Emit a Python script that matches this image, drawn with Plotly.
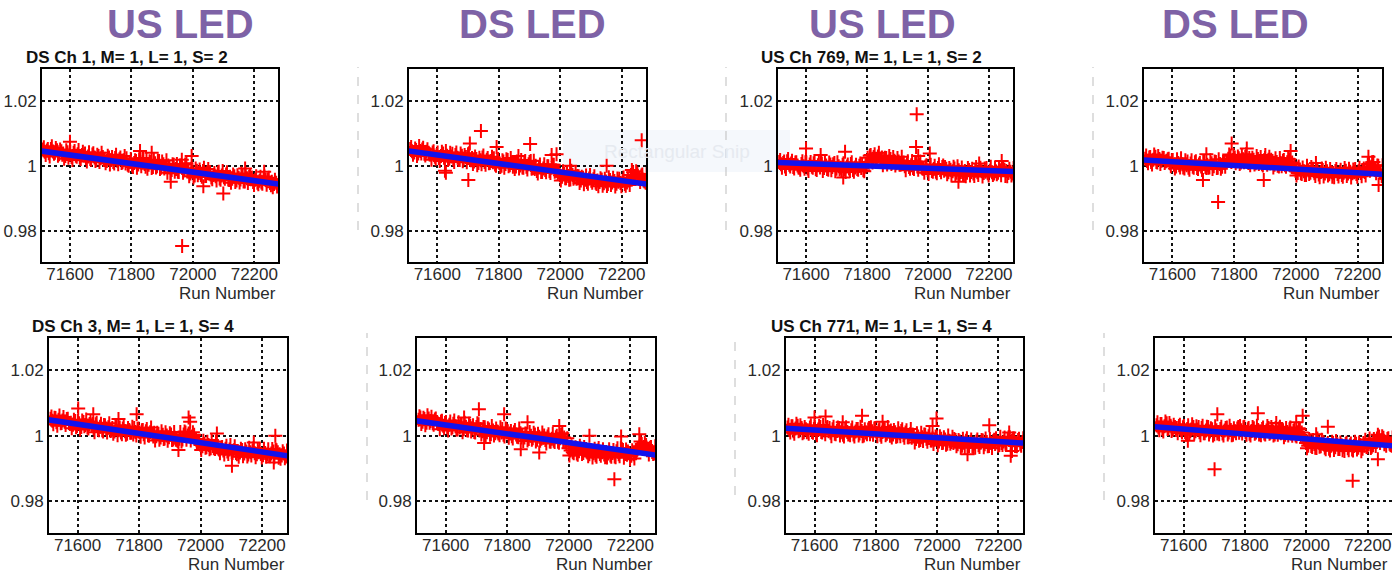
import plotly.graph_objects as go

# ---------------- data ----------------
runs = [
    71512, 71518, 71525, 71531, 71538, 71545, 71551, 71558, 71565, 71572,
    71578, 71585, 71592, 71598, 71605, 71612, 71619, 71625, 71632, 71639,
    71646, 71652, 71659, 71666, 71673, 71680, 71686, 71693, 71700, 71707,
    71713, 71720, 71727, 71734, 71741, 71747, 71754, 71761, 71768, 71775,
    71781, 71788, 71795, 71802, 71809, 71815, 71822, 71829, 71836, 71843,
    71849, 71856, 71863, 71870, 71877, 71883, 71890, 71897, 71904, 71911,
    71917, 71924, 71931, 71938, 71945, 71951, 71958, 71965, 71972, 71979,
    71985, 71992, 71999, 72006, 72013, 72019, 72026, 72033, 72040, 72047,
    72053, 72060, 72067, 72074, 72081, 72087, 72094, 72101, 72108, 72115,
    72121, 72128, 72135, 72142, 72149, 72155, 72162, 72169, 72176, 72183,
    72189, 72196, 72203, 72210, 72217, 72223, 72230, 72237, 72244, 72251,
    72257, 72264, 72271, 72278,
]
runs_b = [
    71515, 71521, 71528, 71534, 71541, 71548, 71554, 71561, 71568, 71575,
    71581, 71588, 71595, 71601, 71608, 71615, 71622, 71628, 71635, 71642,
    71649, 71655, 71662, 71669, 71676, 71683, 71689, 71696, 71703, 71710,
    71716, 71723, 71730, 71737, 71744, 71750, 71757, 71764, 71771, 71778,
    71784, 71791, 71798, 71805, 71812, 71818, 71825, 71832, 71839, 71846,
    71852, 71859, 71866, 71873, 71880, 71886, 71893, 71900, 71907, 71914,
    71920, 71927, 71934, 71941, 71948, 71954, 71961, 71968, 71975, 71982,
    71988, 71995, 72002, 72009, 72016, 72022, 72029, 72036, 72043, 72050,
    72056, 72063, 72070, 72077, 72084, 72090, 72097, 72104, 72111, 72118,
    72124, 72131, 72138, 72145, 72152, 72158, 72165, 72172, 72179, 72186,
    72192, 72199, 72206, 72213, 72220, 72226, 72233, 72240, 72247, 72254,
    72260, 72267, 72274, 72281,
]

p1_vals = [
    1.0050, 1.0043, 1.0047, 1.0039, 1.0052, 1.0044, 1.0040, 1.0048, 1.0036, 1.0045,
    1.0038, 1.0030, 1.0042, 1.0034, 1.0027, 1.0040, 1.0031, 1.0036, 1.0025, 1.0033,
    1.0032, 1.0024, 1.0029, 1.0021, 1.0035, 1.0026, 1.0019, 1.0030, 1.0023, 1.0027,
    1.0022, 1.0015, 1.0026, 1.0018, 1.0012, 1.0024, 1.0016, 1.0020, 1.0009, 1.0017,
    1.0007, 1.0003, 1.0012, 1.0001, 1.0009, 1.0015, 1.0004, 1.0011, 1.0021, 1.0006,
    1.0018, 1.0003, 1.0012, 0.9996, 1.0008, 0.9999, 1.0015, 0.9994, 1.0005, 0.9998,
    0.9979, 0.9995, 0.9987, 1.0003, 0.9990, 0.9982, 1.0001, 0.9993, 0.9986, 1.0008,
    0.9988, 0.9976, 0.9983, 0.9970, 0.9985, 0.9978, 0.9972, 0.9984, 0.9969, 0.9980,
    0.9976, 0.9964, 0.9972, 0.9968, 0.9978, 0.9961, 0.9970, 0.9965, 0.9973, 0.9958,
    0.9966, 0.9960, 0.9968, 0.9955, 0.9963, 0.9958, 0.9971, 0.9952, 0.9962, 0.9966,
    0.9959, 0.9950, 0.9957, 0.9948, 0.9954, 0.9949, 0.9961, 0.9956, 0.9958, 0.9947,
    0.9951, 0.9944, 0.9948, 0.9940,
]
p1_vals_b = [
    1.0057, 1.0033, 1.0052, 1.0029, 1.0060, 1.0037, 1.0055, 1.0031, 1.0050, 1.0034,
    1.0022, 1.0048, 1.0025, 1.0044, 1.0018, 1.0046, 1.0028, 1.0049, 1.0021, 1.0043,
    1.0038, 1.0013, 1.0042, 1.0019, 1.0039, 1.0015, 1.0034, 1.0012, 1.0040, 1.0018,
    1.0008, 1.0031, 1.0004, 1.0027, 1.0007, 1.0034, 1.0005, 1.0026, 1.0011, 1.0030,
    1.0023, 1.0000, 1.0021, 0.9996, 1.0017, 0.9994, 1.0020, 0.9999, 1.0024, 0.9997,
    0.9991, 1.0014, 0.9993, 1.0019, 0.9995, 1.0016, 0.9990, 1.0013, 0.9992, 1.0017,
    1.0001, 0.9977, 1.0005, 0.9982, 1.0006, 0.9981, 1.0000, 0.9979, 1.0004, 0.9983,
    0.9968, 0.9991, 0.9964, 0.9992, 0.9971, 0.9989, 0.9966, 0.9994, 0.9969, 0.9990,
    0.9981, 0.9959, 0.9978, 0.9955, 0.9982, 0.9957, 0.9984, 0.9960, 0.9980, 0.9956,
    0.9948, 0.9973, 0.9950, 0.9971, 0.9949, 0.9976, 0.9952, 0.9974, 0.9947, 0.9972,
    0.9964, 0.9941, 0.9968, 0.9943, 0.9966, 0.9945, 0.9967, 0.9942, 0.9963, 0.9940,
    0.9934, 0.9957, 0.9936, 0.9959,
]
p1_out_runs = [71600, 71965, 71828, 71866, 71928, 71996, 71964, 72099, 72170, 72034, 72232]
p1_out_vals = [1.0074, 0.9753, 1.0046, 1.0040, 0.9951, 1.0030, 1.0019, 0.9915, 0.9992, 0.9937, 0.9982]

p2_vals = [
    1.0052, 1.0045, 1.0041, 1.0049, 1.0038, 1.0046, 1.0050, 1.0037, 1.0043, 1.0040,
    1.0035, 1.0041, 1.0028, 1.0033, 1.0024, 1.0030, 1.0038, 1.0027, 1.0031, 1.0022,
    1.0029, 1.0020, 1.0033, 1.0025, 1.0018, 1.0031, 1.0022, 1.0027, 1.0036, 1.0019,
    1.0024, 1.0013, 1.0021, 1.0009, 1.0017, 1.0026, 1.0012, 1.0019, 1.0008, 1.0015,
    1.0011, 1.0004, 1.0016, 1.0009, 1.0000, 1.0013, 1.0006, 1.0018, 1.0002, 1.0010,
    1.0004, 0.9998, 1.0009, 1.0001, 0.9995, 1.0012, 0.9997, 1.0005, 1.0015, 0.9993,
    0.9990, 0.9984, 0.9996, 0.9981, 0.9992, 0.9987, 0.9999, 0.9983, 0.9994, 1.0003,
    0.9986, 0.9978, 0.9971, 0.9966, 0.9975, 0.9962, 0.9969, 0.9958, 0.9972, 0.9964,
    0.9960, 0.9968, 0.9955, 0.9963, 0.9957, 0.9950, 0.9961, 0.9954, 0.9959, 0.9948,
    0.9955, 0.9950, 0.9958, 0.9946, 0.9952, 0.9944, 0.9956, 0.9949, 0.9953, 0.9945,
    0.9951, 0.9947, 0.9953, 0.9944, 0.9949, 0.9955, 0.9972, 0.9980, 0.9968, 0.9976,
    0.9962, 0.9970, 0.9955, 0.9948,
]
p2_vals_b = [
    1.0058, 1.0034, 1.0053, 1.0030, 1.0061, 1.0038, 1.0056, 1.0032, 1.0051, 1.0035,
    1.0019, 1.0045, 1.0022, 1.0041, 1.0015, 1.0043, 1.0025, 1.0046, 1.0018, 1.0040,
    1.0037, 1.0012, 1.0041, 1.0018, 1.0038, 1.0014, 1.0033, 1.0011, 1.0039, 1.0017,
    1.0006, 1.0029, 1.0002, 1.0025, 1.0005, 1.0032, 1.0003, 1.0024, 1.0009, 1.0028,
    1.0023, 1.0000, 1.0021, 0.9996, 1.0017, 0.9994, 1.0020, 0.9999, 1.0024, 0.9997,
    0.9990, 1.0013, 0.9992, 1.0018, 0.9994, 1.0015, 0.9989, 1.0012, 0.9991, 1.0016,
    1.0000, 0.9976, 1.0004, 0.9981, 1.0005, 0.9980, 0.9999, 0.9978, 1.0003, 0.9982,
    0.9985, 0.9982, 0.9955, 0.9983, 0.9962, 0.9980, 0.9957, 0.9985, 0.9960, 0.9981,
    0.9969, 0.9947, 0.9966, 0.9943, 0.9970, 0.9945, 0.9972, 0.9948, 0.9968, 0.9944,
    0.9937, 0.9962, 0.9939, 0.9960, 0.9938, 0.9965, 0.9941, 0.9963, 0.9936, 0.9961,
    0.9960, 0.9937, 0.9964, 0.9939, 0.9962, 0.9941, 0.9987, 0.9962, 0.9983, 0.9960,
    0.9950, 0.9973, 0.9952, 0.9975,
]
p2_out_runs = [71742, 71706, 71701, 71625, 71628, 71793, 71902, 71972, 71988, 72265, 72151, 72032, 71864]
p2_out_vals = [1.0107, 1.0069, 0.9956, 0.9985, 0.9979, 1.0058, 1.0067, 1.0033, 1.0036, 1.0079, 1.0000, 1.0000, 1.0030]

p3_vals = [
    1.0012, 1.0005, 1.0009, 0.9998, 1.0014, 1.0003, 1.0007, 0.9996, 1.0010, 1.0001,
    0.9994, 1.0006, 0.9999, 1.0011, 0.9992, 1.0004, 0.9997, 1.0008, 0.9990, 1.0002,
    0.9995, 1.0007, 0.9993, 1.0001, 0.9988, 1.0004, 0.9996, 1.0009, 0.9991, 0.9999,
    0.9994, 1.0003, 0.9989, 0.9998, 0.9992, 1.0006, 0.9987, 0.9995, 0.9990, 1.0000,
    0.9993, 0.9986, 0.9997, 1.0025, 1.0031, 1.0020, 1.0027, 1.0018, 1.0029, 1.0022,
    1.0026, 1.0017, 1.0024, 1.0013, 1.0021, 1.0010, 1.0016, 1.0008, 1.0013, 1.0004,
    1.0007, 0.9999, 1.0005, 0.9996, 1.0002, 0.9993, 1.0009, 0.9998, 1.0004, 0.9995,
    0.9991, 0.9998, 0.9986, 0.9994, 0.9984, 0.9990, 0.9982, 0.9993, 0.9987, 0.9996,
    0.9985, 0.9991, 0.9980, 0.9988, 0.9983, 0.9992, 0.9979, 0.9986, 0.9981, 0.9975,
    0.9984, 0.9979, 0.9987, 0.9981, 0.9976, 0.9985, 0.9980, 0.9988, 0.9983, 0.9978,
    0.9982, 0.9977, 0.9985, 0.9980, 0.9976, 0.9983, 0.9979, 0.9986, 0.9992, 0.9988,
    0.9984, 0.9978, 0.9982, 0.9976,
]
p3_vals_b = [
    1.0018, 0.9994, 1.0013, 0.9990, 1.0021, 0.9998, 1.0016, 0.9992, 1.0011, 0.9995,
    0.9988, 1.0014, 0.9991, 1.0010, 0.9984, 1.0012, 0.9994, 1.0015, 0.9987, 1.0009,
    1.0009, 0.9984, 1.0013, 0.9990, 1.0010, 0.9986, 1.0005, 0.9983, 1.0011, 0.9989,
    0.9985, 1.0008, 0.9981, 1.0004, 0.9984, 1.0011, 0.9982, 1.0003, 0.9988, 1.0007,
    1.0006, 0.9983, 1.0004, 1.0012, 1.0033, 1.0010, 1.0036, 1.0015, 1.0040, 1.0013,
    1.0002, 1.0025, 1.0004, 1.0030, 1.0006, 1.0027, 1.0001, 1.0024, 1.0003, 1.0028,
    1.0010, 0.9986, 1.0014, 0.9991, 1.0015, 0.9990, 1.0009, 0.9988, 1.0013, 0.9992,
    0.9979, 1.0002, 0.9975, 1.0003, 0.9982, 1.0000, 0.9977, 1.0005, 0.9980, 1.0001,
    0.9996, 0.9974, 0.9993, 0.9970, 0.9997, 0.9972, 0.9999, 0.9975, 0.9995, 0.9971,
    0.9968, 0.9993, 0.9970, 0.9991, 0.9969, 0.9996, 0.9972, 0.9994, 0.9967, 0.9992,
    0.9993, 0.9970, 0.9997, 0.9972, 0.9995, 0.9974, 0.9996, 0.9971, 0.9992, 0.9969,
    0.9968, 0.9991, 0.9970, 0.9993,
]
p3_out_runs = [71963, 71961, 71600, 71728, 71722, 71648, 72100, 72168, 72242, 72006, 71968]
p3_out_vals = [1.0159, 1.0058, 1.0053, 1.0043, 0.9964, 1.0033, 0.9951, 1.0007, 1.0015, 1.0038, 1.0030]

p4_vals = [
    1.0022, 1.0015, 1.0026, 1.0012, 1.0019, 1.0028, 1.0010, 1.0021, 1.0016, 1.0024,
    1.0013, 1.0020, 1.0008, 1.0017, 1.0003, 0.9998, 1.0009, 0.9995, 1.0005, 0.9992,
    1.0002, 0.9994, 1.0007, 0.9997, 1.0011, 0.9993, 1.0004, 0.9998, 1.0013, 0.9996,
    1.0003, 0.9995, 1.0008, 0.9999, 1.0012, 0.9994, 1.0006, 0.9997, 1.0009, 1.0015,
    1.0022, 1.0031, 1.0018, 1.0026, 1.0014, 1.0023, 1.0010, 1.0020, 1.0027, 1.0016,
    1.0024, 1.0012, 1.0019, 1.0008, 1.0021, 1.0014, 1.0005, 1.0017, 1.0010, 1.0019,
    1.0008, 1.0015, 1.0003, 1.0012, 0.9998, 1.0009, 1.0016, 1.0002, 1.0011, 1.0020,
    1.0006, 0.9995, 0.9984, 0.9978, 0.9989, 0.9975, 0.9983, 0.9972, 0.9986, 0.9979,
    0.9990, 0.9977, 0.9984, 0.9973, 0.9981, 0.9987, 0.9976, 0.9983, 0.9974, 0.9980,
    0.9978, 0.9984, 0.9975, 0.9981, 0.9972, 0.9979, 0.9985, 0.9976, 0.9982, 0.9977,
    0.9980, 0.9975, 0.9983, 0.9978, 0.9985, 0.9981, 0.9992, 1.0006, 0.9997, 1.0012,
    0.9989, 1.0001, 0.9979, 0.9968,
]
p4_vals_b = [
    1.0032, 1.0008, 1.0027, 1.0004, 1.0035, 1.0012, 1.0030, 1.0006, 1.0025, 1.0009,
    1.0016, 1.0022, 0.9999, 1.0018, 0.9992, 1.0020, 1.0002, 1.0023, 0.9995, 1.0017,
    1.0013, 0.9988, 1.0017, 0.9994, 1.0014, 0.9990, 1.0009, 0.9987, 1.0015, 0.9993,
    0.9994, 1.0017, 0.9990, 1.0013, 0.9993, 1.0020, 0.9991, 1.0012, 0.9997, 1.0016,
    1.0035, 1.0012, 1.0033, 1.0008, 1.0029, 1.0006, 1.0032, 1.0011, 1.0036, 1.0009,
    1.0002, 1.0025, 1.0004, 1.0030, 1.0006, 1.0027, 1.0001, 1.0024, 1.0003, 1.0028,
    1.0019, 0.9995, 1.0023, 1.0000, 1.0024, 0.9999, 1.0018, 0.9997, 1.0022, 1.0001,
    1.0010, 0.9997, 0.9970, 0.9998, 0.9977, 0.9995, 0.9972, 1.0000, 0.9975, 0.9996,
    0.9991, 0.9969, 0.9988, 0.9965, 0.9992, 0.9967, 0.9994, 0.9970, 0.9990, 0.9966,
    0.9965, 0.9990, 0.9967, 0.9988, 0.9966, 0.9993, 0.9969, 0.9991, 0.9964, 0.9989,
    0.9990, 0.9966, 0.9994, 0.9968, 0.9992, 0.9970, 1.0005, 0.9985, 1.0011, 0.9988,
    0.9977, 1.0000, 0.9979, 1.0002,
]
p4_out_runs = [71748, 71792, 71699, 71841, 72268, 71983, 71896, 72065, 71710, 72235, 71901]
p4_out_vals = [0.9889, 1.0069, 0.9956, 1.0053, 0.9941, 1.0046, 0.9956, 1.0009, 1.0036, 1.0028, 1.0033]

p5_vals = [
    1.0052, 1.0046, 1.0055, 1.0041, 1.0049, 1.0038, 1.0047, 1.0043, 1.0051, 1.0039,
    1.0040, 1.0034, 1.0045, 1.0030, 1.0038, 1.0027, 1.0042, 1.0033, 1.0025, 1.0036,
    1.0031, 1.0024, 1.0035, 1.0020, 1.0028, 1.0017, 1.0033, 1.0022, 1.0026, 1.0015,
    1.0024, 1.0013, 1.0028, 1.0017, 1.0010, 1.0022, 1.0014, 1.0006, 1.0018, 1.0009,
    1.0004, 1.0012, 1.0021, 1.0010, 1.0017, 1.0005, 1.0014, 1.0002, 1.0011, 1.0007,
    1.0009, 0.9999, 1.0006, 0.9995, 1.0003, 0.9992, 1.0001, 0.9996, 1.0004, 0.9989,
    0.9994, 0.9986, 0.9991, 0.9983, 1.0004, 1.0010, 1.0001, 1.0006, 0.9998, 1.0003,
    0.9990, 0.9980, 0.9973, 0.9968, 0.9976, 0.9965, 0.9972, 0.9962, 0.9969, 0.9960,
    0.9966, 0.9958, 0.9963, 0.9955, 0.9961, 0.9952, 0.9958, 0.9950, 0.9956, 0.9948,
    0.9954, 0.9949, 0.9957, 0.9946, 0.9952, 0.9943, 0.9950, 0.9955, 0.9947, 0.9944,
    0.9950, 0.9945, 0.9941, 0.9948, 0.9943, 0.9939, 0.9946, 0.9952, 0.9958, 0.9950,
    0.9944, 0.9940, 0.9946, 0.9937,
]
p5_vals_b = [
    1.0059, 1.0035, 1.0054, 1.0031, 1.0062, 1.0039, 1.0057, 1.0033, 1.0052, 1.0036,
    1.0023, 1.0049, 1.0026, 1.0045, 1.0019, 1.0047, 1.0029, 1.0050, 1.0022, 1.0044,
    1.0036, 1.0011, 1.0040, 1.0017, 1.0037, 1.0013, 1.0032, 1.0010, 1.0038, 1.0016,
    1.0006, 1.0029, 1.0002, 1.0025, 1.0005, 1.0032, 1.0003, 1.0024, 1.0009, 1.0028,
    1.0024, 1.0001, 1.0022, 0.9997, 1.0018, 0.9995, 1.0021, 1.0000, 1.0025, 0.9998,
    0.9986, 1.0009, 0.9988, 1.0014, 0.9990, 1.0011, 0.9985, 1.0008, 0.9987, 1.0012,
    0.9988, 0.9984, 1.0012, 0.9989, 1.0013, 0.9988, 1.0007, 0.9986, 1.0011, 0.9990,
    0.9981, 0.9984, 0.9957, 0.9985, 0.9964, 0.9982, 0.9959, 0.9987, 0.9962, 0.9983,
    0.9969, 0.9947, 0.9966, 0.9943, 0.9970, 0.9945, 0.9972, 0.9948, 0.9968, 0.9944,
    0.9936, 0.9961, 0.9938, 0.9959, 0.9937, 0.9964, 0.9940, 0.9962, 0.9935, 0.9960,
    0.9957, 0.9934, 0.9961, 0.9936, 0.9959, 0.9938, 0.9960, 0.9935, 0.9956, 0.9933,
    0.9930, 0.9953, 0.9932, 0.9955,
]
p5_out_runs = [71602, 71651, 71792, 71961, 71966, 72102, 72243, 72238, 71928, 72053, 71733, 72173]
p5_out_vals = [1.0083, 1.0066, 1.0066, 1.0056, 1.0043, 0.9909, 1.0000, 0.9919, 0.9957, 1.0007, 1.0051, 0.9980]

p6_vals = [
    1.0049, 1.0056, 1.0043, 1.0051, 1.0040, 1.0053, 1.0045, 1.0038, 1.0050, 1.0042,
    1.0036, 1.0044, 1.0031, 1.0039, 1.0026, 1.0034, 1.0022, 1.0037, 1.0029, 1.0019,
    1.0025, 1.0033, 1.0020, 1.0028, 1.0016, 1.0030, 1.0023, 1.0012, 1.0027, 1.0035,
    1.0021, 1.0014, 1.0026, 1.0011, 1.0019, 1.0005, 1.0016, 1.0008, 1.0013, 1.0002,
    1.0010, 1.0003, 1.0022, 1.0014, 1.0007, 0.9999, 1.0011, 1.0004, 0.9996, 1.0008,
    1.0002, 0.9995, 1.0006, 0.9990, 1.0000, 0.9993, 1.0004, 0.9988, 0.9997, 0.9991,
    0.9994, 0.9987, 0.9998, 0.9983, 0.9991, 0.9985, 0.9996, 0.9982, 0.9993, 1.0008,
    0.9995, 0.9978, 0.9962, 0.9955, 0.9950, 0.9958, 0.9946, 0.9953, 0.9961, 0.9948,
    0.9956, 0.9949, 0.9944, 0.9952, 0.9947, 0.9941, 0.9955, 0.9945, 0.9950, 0.9943,
    0.9951, 0.9946, 0.9940, 0.9948, 0.9937, 0.9953, 0.9944, 0.9962, 0.9957, 0.9945,
    0.9942, 0.9948, 0.9939, 0.9944, 0.9951, 0.9960, 0.9968, 0.9975, 0.9966, 0.9972,
    0.9958, 0.9964, 0.9951, 0.9946,
]
p6_vals_b = [
    1.0060, 1.0036, 1.0055, 1.0032, 1.0063, 1.0040, 1.0058, 1.0034, 1.0053, 1.0037,
    1.0020, 1.0046, 1.0023, 1.0042, 1.0016, 1.0044, 1.0026, 1.0047, 1.0019, 1.0041,
    1.0036, 1.0011, 1.0040, 1.0017, 1.0037, 1.0013, 1.0032, 1.0010, 1.0038, 1.0016,
    1.0004, 1.0027, 1.0000, 1.0023, 1.0003, 1.0030, 1.0001, 1.0022, 1.0007, 1.0026,
    1.0021, 0.9998, 1.0019, 0.9994, 1.0015, 0.9992, 1.0018, 0.9997, 1.0022, 0.9995,
    0.9984, 1.0007, 0.9986, 1.0012, 0.9988, 1.0009, 0.9983, 1.0006, 0.9985, 1.0010,
    1.0001, 0.9977, 1.0005, 0.9982, 1.0006, 0.9981, 1.0000, 0.9979, 1.0004, 0.9983,
    0.9984, 0.9993, 0.9940, 0.9968, 0.9947, 0.9965, 0.9942, 0.9970, 0.9945, 0.9966,
    0.9960, 0.9938, 0.9957, 0.9934, 0.9961, 0.9936, 0.9963, 0.9939, 0.9959, 0.9935,
    0.9934, 0.9959, 0.9936, 0.9957, 0.9935, 0.9962, 0.9938, 0.9960, 0.9933, 0.9958,
    0.9952, 0.9929, 0.9956, 0.9931, 0.9954, 0.9963, 0.9983, 0.9960, 0.9979, 0.9956,
    0.9943, 0.9966, 0.9945, 0.9968,
]
p6_out_runs = [72148, 71708, 71790, 71725, 71904, 71969, 71866, 72067, 72170, 72229, 71844, 71660]
p6_out_vals = [0.9868, 1.0081, 1.0066, 0.9978, 0.9949, 1.0030, 1.0041, 1.0000, 0.9998, 1.0005, 0.9959, 1.0056]

p7_vals = [
    1.0025, 1.0018, 1.0029, 1.0014, 1.0022, 1.0031, 1.0016, 1.0024, 1.0011, 1.0020,
    1.0017, 1.0025, 1.0012, 1.0021, 1.0008, 1.0019, 1.0027, 1.0010, 1.0016, 1.0023,
    1.0014, 1.0009, 1.0020, 1.0006, 1.0015, 1.0024, 1.0011, 1.0003, 1.0018, 1.0012,
    1.0008, 1.0017, 1.0004, 1.0013, 1.0021, 1.0007, 1.0015, 1.0001, 1.0010, 1.0019,
    1.0005, 1.0014, 1.0022, 1.0009, 1.0017, 1.0003, 1.0012, 1.0020, 1.0006, 1.0013,
    1.0016, 1.0004, 1.0011, 0.9999, 1.0008, 1.0015, 1.0002, 1.0010, 0.9996, 1.0005,
    0.9994, 1.0002, 0.9990, 0.9998, 0.9987, 0.9996, 1.0004, 0.9991, 0.9999, 0.9986,
    0.9993, 0.9988, 0.9997, 0.9983, 0.9991, 0.9979, 0.9989, 0.9976, 0.9985, 0.9981,
    0.9978, 0.9987, 0.9974, 0.9983, 0.9970, 0.9979, 0.9985, 0.9972, 0.9981, 0.9968,
    0.9977, 0.9983, 0.9971, 0.9979, 0.9986, 0.9974, 0.9981, 0.9969, 0.9978, 0.9984,
    0.9975, 0.9980, 0.9972, 0.9978, 0.9983, 0.9976, 0.9990, 0.9996, 0.9984, 0.9992,
    0.9979, 0.9987, 0.9974, 0.9981,
]
p7_vals_b = [
    1.0034, 1.0010, 1.0029, 1.0006, 1.0037, 1.0014, 1.0032, 1.0008, 1.0027, 1.0011,
    1.0006, 1.0032, 1.0009, 1.0028, 1.0002, 1.0030, 1.0012, 1.0033, 1.0005, 1.0027,
    1.0024, 0.9999, 1.0028, 1.0005, 1.0025, 1.0001, 1.0020, 0.9998, 1.0026, 1.0004,
    1.0002, 1.0025, 0.9998, 1.0021, 1.0001, 1.0028, 0.9999, 1.0020, 1.0005, 1.0024,
    1.0026, 1.0003, 1.0024, 0.9999, 1.0020, 0.9997, 1.0023, 1.0002, 1.0027, 1.0000,
    0.9995, 1.0018, 0.9997, 1.0023, 0.9999, 1.0020, 0.9994, 1.0017, 0.9996, 1.0021,
    1.0004, 0.9980, 1.0008, 0.9985, 1.0009, 0.9984, 1.0003, 0.9982, 1.0007, 0.9986,
    0.9975, 0.9998, 0.9971, 0.9999, 0.9978, 0.9996, 0.9973, 1.0001, 0.9976, 0.9997,
    0.9990, 0.9968, 0.9987, 0.9964, 0.9991, 0.9966, 0.9993, 0.9969, 0.9989, 0.9965,
    0.9964, 0.9989, 0.9966, 0.9987, 0.9965, 0.9992, 0.9968, 0.9990, 0.9963, 0.9988,
    0.9993, 0.9970, 0.9997, 0.9972, 0.9995, 0.9974, 0.9996, 0.9971, 0.9992, 0.9969,
    0.9968, 0.9991, 0.9970, 0.9993,
]
p7_out_runs = [71600, 71636, 71755, 71998, 71985, 72170, 72099, 72240, 72244, 71822, 71692, 72235]
p7_out_vals = [1.0056, 1.0059, 1.0061, 1.0053, 1.0030, 1.0032, 0.9944, 0.9939, 0.9954, 1.0043, 1.0041, 1.0010]

p8_vals = [
    1.0032, 1.0025, 1.0036, 1.0021, 1.0029, 1.0038, 1.0023, 1.0031, 1.0019, 1.0027,
    1.0024, 1.0030, 1.0017, 1.0026, 1.0012, 1.0021, 1.0008, 1.0019, 1.0027, 1.0014,
    1.0019, 1.0011, 1.0024, 1.0008, 1.0016, 1.0027, 1.0013, 1.0020, 1.0005, 1.0017,
    1.0012, 1.0021, 1.0007, 1.0016, 1.0025, 1.0010, 1.0018, 1.0003, 1.0014, 1.0022,
    1.0009, 1.0017, 1.0026, 1.0011, 1.0020, 1.0006, 1.0015, 1.0023, 1.0010, 1.0018,
    1.0013, 1.0021, 1.0007, 1.0016, 1.0024, 1.0009, 1.0018, 1.0004, 1.0014, 1.0022,
    1.0008, 1.0017, 1.0003, 1.0012, 1.0020, 1.0006, 1.0015, 1.0001, 1.0011, 1.0019,
    1.0010, 0.9993, 0.9978, 0.9970, 0.9982, 0.9966, 0.9975, 0.9963, 0.9979, 0.9968,
    0.9976, 0.9964, 0.9973, 0.9961, 0.9970, 0.9978, 0.9965, 0.9974, 0.9960, 0.9971,
    0.9967, 0.9975, 0.9962, 0.9971, 0.9958, 0.9969, 0.9976, 0.9964, 0.9972, 0.9961,
    0.9970, 0.9966, 0.9974, 0.9963, 0.9971, 0.9984, 0.9992, 0.9998, 0.9987, 0.9994,
    0.9982, 0.9990, 0.9976, 0.9970,
]
p8_vals_b = [
    1.0041, 1.0017, 1.0036, 1.0013, 1.0044, 1.0021, 1.0039, 1.0015, 1.0034, 1.0018,
    1.0008, 1.0034, 1.0011, 1.0030, 1.0004, 1.0032, 1.0014, 1.0035, 1.0007, 1.0029,
    1.0027, 1.0002, 1.0031, 1.0008, 1.0028, 1.0004, 1.0023, 1.0001, 1.0029, 1.0007,
    1.0005, 1.0028, 1.0001, 1.0024, 1.0004, 1.0031, 1.0002, 1.0023, 1.0008, 1.0027,
    1.0030, 1.0007, 1.0028, 1.0003, 1.0024, 1.0001, 1.0027, 1.0006, 1.0031, 1.0004,
    1.0002, 1.0025, 1.0004, 1.0030, 1.0006, 1.0027, 1.0001, 1.0024, 1.0003, 1.0028,
    1.0020, 0.9996, 1.0024, 1.0001, 1.0025, 1.0000, 1.0019, 0.9998, 1.0023, 1.0002,
    0.9995, 0.9989, 0.9962, 0.9990, 0.9969, 0.9987, 0.9964, 0.9992, 0.9967, 0.9988,
    0.9981, 0.9959, 0.9978, 0.9955, 0.9982, 0.9957, 0.9984, 0.9960, 0.9980, 0.9956,
    0.9954, 0.9979, 0.9956, 0.9977, 0.9955, 0.9982, 0.9958, 0.9980, 0.9953, 0.9978,
    0.9988, 0.9965, 0.9992, 0.9967, 0.9990, 0.9969, 1.0003, 0.9978, 0.9999, 0.9974,
    0.9970, 0.9993, 0.9972, 0.9995,
]
p8_out_runs = [71701, 72151, 71842, 72233, 71988, 71710, 72070, 71967, 71902, 71614, 72032]
p8_out_vals = [0.9898, 0.9863, 1.0069, 0.9929, 1.0061, 1.0066, 1.0028, 1.0041, 1.0039, 0.9985, 1.0005]

fit_runs = [71500, 72290]
fit_start = [1.00465, 1.00465, 1.00102, 1.00182, 1.00495, 1.00465, 1.00233, 1.00283]
fit_end = [0.99425, 0.99425, 0.99818, 0.99738, 0.99380, 0.99405, 0.99773, 0.99688]

headers = ["US LED", "DS LED", "US LED", "DS LED"]
panel_titles = ["DS Ch 1, M= 1, L= 1, S= 2", "", "US Ch 769, M= 1, L= 1, S= 2", "",
                "DS Ch 3, M= 1, L= 1, S= 4", "", "US Ch 771, M= 1, L= 1, S= 4", ""]
x_tick_vals = [71600, 71800, 72000, 72200]
x_tick_text = ["71600", "71800", "72000", "72200"]
y_tick_vals = [0.98, 1.0, 1.02]
y_tick_text = ["0.98", "1", "1.02"]
x_label = "Run Number"

all_vals = [p1_vals, p2_vals, p3_vals, p4_vals, p5_vals, p6_vals, p7_vals, p8_vals]
all_vals_b = [p1_vals_b, p2_vals_b, p3_vals_b, p4_vals_b,
              p5_vals_b, p6_vals_b, p7_vals_b, p8_vals_b]
all_out_runs = [p1_out_runs, p2_out_runs, p3_out_runs, p4_out_runs,
                p5_out_runs, p6_out_runs, p7_out_runs, p8_out_runs]
all_out_vals = [p1_out_vals, p2_out_vals, p3_out_vals, p4_out_vals,
                p5_out_vals, p6_out_vals, p7_out_vals, p8_out_vals]

# ---------------- layout geometry (pixels) ----------------
W, H = 1392, 577
boxes = [(42, 278, 69, 262), (409, 646, 69, 262), (778, 1013, 69, 262), (1144, 1382, 69, 262),
         (49, 287, 338, 533), (417, 655, 338, 533), (786, 1023, 338, 533), (1155, 1392, 338, 533)]
x_ranges = [[71509, 72277], [71508, 72279], [71508, 72279], [71508, 72279],
            [71507, 72281], [71507, 72280], [71507, 72280], [71507, 72279]]
y_range = [0.9704, 1.0298]
header_x = [180, 532, 882, 1235]
title_x = [126.5, None, 871, None, 133, None, 881, None]

FONT = "Liberation Sans, Arial, sans-serif"
PURPLE = "#7E62A6"
RED = "#FF0000"
BLUE = "#1212EE"

try:
    go.layout.XAxis(ticklabelstandoff=-4)
    X_STANDOFF = -4
except Exception:
    X_STANDOFF = 0


def fx(p):
    return p / W


def fy(p):
    return 1 - p / H


fig = go.Figure()
layout = dict(
    width=W, height=H, margin=dict(l=0, r=0, t=0, b=0),
    paper_bgcolor="white", plot_bgcolor="white", showlegend=False,
    font=dict(family=FONT, color="#2a2a2a"),
)

annotations = []
shapes = []

for i in range(8):
    sfx = "" if i == 0 else str(i + 1)
    xa, ya = "x" + sfx, "y" + sfx
    l, r, t, b = boxes[i]
    marker = dict(symbol="cross-thin", size=10, color=RED, line=dict(width=2, color=RED))
    fig.add_trace(go.Scatter(x=runs_b, y=all_vals_b[i], mode="markers", marker=marker,
                             xaxis=xa, yaxis=ya, hoverinfo="skip"))
    fig.add_trace(go.Scatter(x=runs, y=all_vals[i], mode="markers", marker=marker,
                             xaxis=xa, yaxis=ya, hoverinfo="skip"))
    fig.add_trace(go.Scatter(x=all_out_runs[i], y=all_out_vals[i], mode="markers", marker=marker,
                             xaxis=xa, yaxis=ya, hoverinfo="skip"))
    fig.add_trace(go.Scatter(x=fit_runs, y=[fit_start[i], fit_end[i]], mode="lines",
                             line=dict(color=BLUE, width=5.5),
                             xaxis=xa, yaxis=ya, hoverinfo="skip"))

    common = dict(showline=True, linecolor="black", linewidth=2,
                  showgrid=True, gridcolor="#111111", gridwidth=2, griddash="dot",
                  zeroline=False, ticks="", fixedrange=True,
                  tickfont=dict(family=FONT, size=17, color="#2a2a2a"))
    layout["xaxis" + sfx] = dict(common, domain=[fx(l), min(fx(r), 1.0)], range=x_ranges[i],
                                 anchor=ya, tickvals=x_tick_vals, ticktext=x_tick_text,
                                 mirror=True, ticklabelstandoff=X_STANDOFF)
    layout["yaxis" + sfx] = dict(common, domain=[fy(b), fy(t)], range=y_range,
                                 anchor=xa, tickvals=y_tick_vals, ticktext=y_tick_text,
                                 mirror=(i != 7))

    # x axis label
    annotations.append(dict(text=x_label, xref="paper", yref="paper",
                            x=fx(min(r, 1390)), y=fy(b + 31), xanchor="right", yanchor="middle",
                            showarrow=False, font=dict(family=FONT, size=17, color="#2a2a2a")))
    # panel title
    if panel_titles[i]:
        annotations.append(dict(text="<b>" + panel_titles[i] + "</b>", xref="paper", yref="paper",
                                x=fx(title_x[i]), y=fy(t - 12), xanchor="center", yanchor="middle",
                                showarrow=False, font=dict(family=FONT, size=17, color="#111111")))

# big headers
for k, h in enumerate(headers):
    annotations.append(dict(text="<b>" + h + "</b>", xref="paper", yref="paper",
                            x=fx(header_x[k]), y=fy(24), xanchor="center", yanchor="middle",
                            showarrow=False, font=dict(family=FONT, size=40, color=PURPLE)))

# faint snip-tool watermark
shapes.append(dict(type="rect", xref="paper", yref="paper", x0=fx(563), x1=fx(790),
                   y0=fy(172), y1=fy(130), fillcolor="#F5F8FC", line=dict(width=0), layer="below"))
annotations.append(dict(text="Rectangular Snip", xref="paper", yref="paper",
                        x=fx(677), y=fy(151), xanchor="center", yanchor="middle", showarrow=False,
                        font=dict(family=FONT, size=19, color="#E6EAF0")))

# faint cropped-axis remnants to the left of some panels
for (xx, y0, y1) in [(358, 67, 230), (726, 67, 230), (1093, 67, 230),
                     (367, 333, 500), (735, 333, 495), (1104, 333, 500)]:
    shapes.append(dict(type="line", xref="paper", yref="paper", x0=fx(xx), x1=fx(xx),
                       y0=fy(y1), y1=fy(y0), line=dict(color="#BDBDBD", width=1, dash="dash")))

layout["annotations"] = annotations
layout["shapes"] = shapes
fig.update_layout(**layout)

fig.write_html("out.html")
